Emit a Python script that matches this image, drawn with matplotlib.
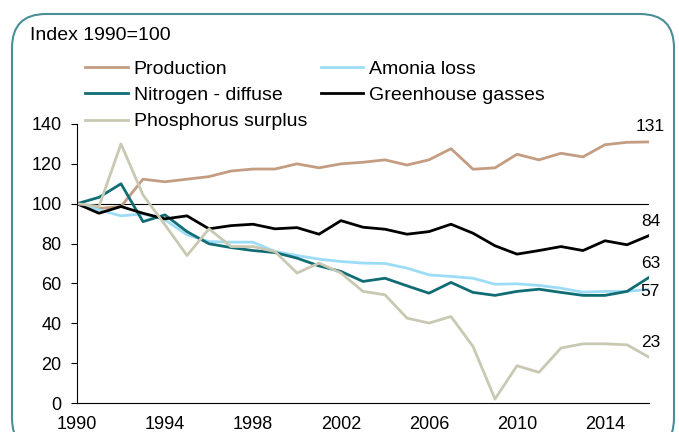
import numpy as np
import matplotlib.pyplot as plt
from matplotlib.patches import FancyBboxPatch

plt.rcParams['font.family'] = ['Liberation Sans', 'DejaVu Sans']

# index values, 1990=100
years = np.arange(1990, 2017)
production = [100, 97.6, 98.6, 112.3, 111, 112.3, 113.6, 116.4, 117.4, 117.4,
              120, 118, 120, 120.8, 122, 119.4, 122, 127.6, 117.3, 118,
              124.8, 122, 125.3, 123.5, 129.6, 130.8, 131]
amonia = [100, 96.9, 93.9, 94.9, 91.9, 84.4, 81, 80.7, 80.7, 76,
          74, 72.2, 71, 70.2, 70, 67.7, 64.3, 63.5, 62.6, 59.6,
          59.8, 59, 57.6, 55.6, 56, 56, 57]
nitrogen = [100, 103.2, 110, 91, 94.4, 86, 79.9, 78, 76.5, 75.5,
            72.7, 68.8, 66, 61, 62.6, 58.8, 55.1, 60.5, 55.5, 54,
            56, 57.1, 55.5, 54, 54, 56, 63]
greenhouse = [100, 95.2, 98.6, 95.2, 92.4, 93.9, 87.4, 89, 89.7, 87.4,
              88, 84.7, 91.5, 88.2, 87.2, 84.7, 86, 89.7, 85.2, 78.9,
              74.7, 76.5, 78.5, 76.5, 81.4, 79.4, 84]
phosphorus = [100, 98.6, 130, 104.4, 89.4, 74, 87.4, 78.5, 78.5, 76,
              65.2, 70.2, 65.2, 56, 54.3, 42.6, 40.1, 43.4, 28.4, 2,
              18.7, 15.4, 27.6, 29.7, 29.7, 29.2, 23]
xticks = [1990, 1994, 1998, 2002, 2006, 2010, 2014]
yticks = [0, 20, 40, 60, 80, 100, 120, 140]

fig = plt.figure(figsize=(6.79, 4.32), dpi=100)
ax = fig.add_axes([0.1134, 0.0671, 0.8424, 0.6459])

# rounded frame round the whole chart
frame = FancyBboxPatch((12/679, -20/432), 662/679, 438/432,
                       boxstyle='round,pad=0,rounding_size=0.05',
                       transform=fig.transFigure, facecolor='none',
                       edgecolor='#4a8f96', linewidth=1.5, clip_on=False,
                       mutation_aspect=679/432)
fig.patches.append(frame)

ax.axhline(100, color='black', linewidth=0.8, zorder=1)

l1, = ax.plot(years, production, color='#c49c82', lw=2, label='Production')
l4, = ax.plot(years, amonia, color='#9ddcf6', lw=2, label='Amonia loss')
l2, = ax.plot(years, nitrogen, color='#116d74', lw=2, label='Nitrogen - diffuse')
l5, = ax.plot(years, greenhouse, color='black', lw=2, label='Greenhouse gasses')
l3, = ax.plot(years, phosphorus, color='#c9c9b3', lw=2, label='Phosphorus surplus')

ax.set_xlim(1990, 2016)
ax.set_ylim(0, 140)
ax.set_xticks(xticks)
ax.set_yticks(yticks)
ax.tick_params(labelsize=13, width=0.8, color='black')
ax.tick_params(axis='y', length=4.5, pad=6.5)
ax.tick_params(axis='x', length=0, pad=9)
for s in ['top', 'right']:
    ax.spines[s].set_visible(False)
for s in ['left', 'bottom']:
    ax.spines[s].set_linewidth(0.8)

# end values
for vals, dy in [(production, 6), (greenhouse, 5), (nitrogen, 5), (amonia, -7), (phosphorus, 5)]:
    ax.annotate('%d' % round(vals[-1]), (years[-1], vals[-1]), xytext=(1, dy),
                textcoords='offset points', ha='center', va='bottom', fontsize=12.5,
                annotation_clip=False)

fig.legend(handles=[l1, l2, l3, l4, l5], ncol=2, frameon=False, fontsize=14,
           loc='upper left', bbox_to_anchor=(85/679, 1 - 60/432),
           handlelength=2.2, handletextpad=0.3, columnspacing=0.7,
           labelspacing=0.45, borderaxespad=0, borderpad=0)

fig.text(30/679, 1 - 35/432, 'Index 1990=100', fontsize=14, va='center')

fig.savefig('out.png', dpi=100)
